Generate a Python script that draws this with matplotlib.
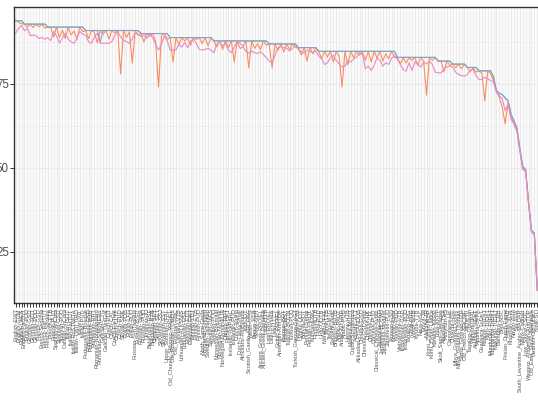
"""
Per-treebank tagging accuracy for four runs, treebanks sorted best to worst.
"""

from pathlib import Path

import numpy as np
import matplotlib
matplotlib.use("Agg")
import matplotlib.pyplot as plt
from matplotlib.ticker import MultipleLocator


TREEBANKS = [
    "English-EWT", "English-GUM", "English-LinES", "English-ParTUT", "English-PUD",
    "German-GSD", "German-HDT", "German-PUD", "French-GSD", "French-Sequoia",
    "French-ParTUT", "French-Spoken", "French-FTB", "French-PUD", "Spanish-AnCora",
    "Spanish-GSD", "Spanish-PUD", "Catalan-AnCora", "Italian-ISDT", "Italian-ParTUT",
    "Italian-PoSTWITA", "Italian-TWITTIRO", "Italian-VIT", "Italian-PUD", "Portuguese-Bosque",
    "Portuguese-GSD", "Portuguese-PUD", "Romanian-RRT", "Romanian-Nonstandard", "Romanian-SiMoNERo",
    "Galician-CTG", "Galician-TreeGal", "Czech-PDT", "Czech-CAC", "Czech-FicTree",
    "Czech-CLTT", "Czech-PUD", "Slovak-SNK", "Polish-PDB", "Polish-LFG",
    "Polish-PUD", "Russian-SynTagRus", "Russian-GSD", "Russian-Taiga", "Russian-PUD",
    "Ukrainian-IU", "Belarusian-HSE", "Bulgarian-BTB", "Croatian-SET", "Serbian-SET",
    "Slovenian-SSJ", "Slovenian-SST", "Upper_Sorbian-UFAL", "Old_Church_Slavonic-PROIEL", "Old_Russian-TOROT",
    "Old_Russian-RNC", "Latvian-LVTB", "Lithuanian-ALKSNIS", "Lithuanian-HSE", "Estonian-EDT",
    "Estonian-EWT", "Finnish-TDT", "Finnish-FTB", "Finnish-PUD", "North_Sami-Giella",
    "Hungarian-Szeged", "Swedish-Talbanken", "Swedish-LinES", "Swedish-PUD", "Norwegian-Bokmaal",
    "Norwegian-Nynorsk", "Norwegian-NynorskLIA", "Danish-DDT", "Faroese-OFT", "Icelandic-IcePaHC",
    "Icelandic-PUD", "Dutch-Alpino", "Dutch-LassySmall", "Afrikaans-AfriBooms", "Irish-IDT",
    "Scottish_Gaelic-ARCOSG", "Welsh-CCG", "Breton-KEB", "Greek-GDT", "Ancient_Greek-PROIEL",
    "Ancient_Greek-Perseus", "Latin-ITTB", "Latin-PROIEL", "Latin-Perseus", "Latin-LLCT",
    "Gothic-PROIEL", "Armenian-ArmTDP", "Basque-BDT", "Turkish-IMST", "Turkish-BOUN",
    "Turkish-PUD", "Turkish_German-SAGT", "Kazakh-KTB", "Uyghur-UDT", "Buryat-BDT",
    "Persian-Seraji", "Persian-PerDT", "Kurmanji-MG", "Hindi-HDTB", "Hindi-PUD",
    "Urdu-UDTB", "Marathi-UFAL", "Tamil-TTB", "Telugu-MTG", "Sanskrit-Vedic",
    "Bhojpuri-BHTB", "Arabic-PADT", "Arabic-NYUAD", "Arabic-PUD", "Hebrew-HTB",
    "Maltese-MUDT", "Coptic-Scriptorium", "Amharic-ATT", "Akkadian-PISANDUB", "Chinese-GSD",
    "Chinese-GSDSimp", "Chinese-HK", "Chinese-CFL", "Chinese-PUD", "Classical_Chinese-Kyoto",
    "Japanese-GSD", "Japanese-BCCWJ", "Japanese-Modern", "Japanese-PUD", "Korean-GSD",
    "Korean-Kaist", "Korean-PUD", "Vietnamese-VTB", "Indonesian-GSD", "Indonesian-PUD",
    "Tagalog-TRG", "Thai-PUD", "Wolof-WTB", "Yoruba-YTB", "Naija-NSC",
    "Erzya-JR", "Moksha-JR", "Komi_Zyrian-IKDP", "Komi_Zyrian-Lattice", "Karelian-KKPP",
    "Livvi-KKPP", "Skolt_Sami-Giellagas", "Albanian-TSA", "Assyrian-AS", "Cantonese-HK",
    "Chukchi-HSE", "Mbya_Guarani-Dooley", "Mbya_Guarani-Thomas", "Swiss_German-UZH", "Old_French-SRCMF",
    "Kiche-IU", "Tagalog-Ugnayan", "Warlpiri-UFAL", "Akuntsu-TuDeT", "Apurina-UFPA",
    "Guajajara-TuDeT", "Kaapor-TuDeT", "Karo-TuDeT", "Munduruku-TuDeT", "Tupinamba-TuDeT",
    "Makurap-TuDeT", "Bambara-CRB", "Beja-NSC", "Frisian_Dutch-Fame", "Hittite-HHD",
    "Khunsari-AHA", "Nayini-AHA", "Soi-AHA", "South_Levantine_Arabic-MADAR", "Manx-Cadhan",
    "Low_Saxon-LSDC", "Western_Armenian-ArmTDP", "Old_East_Slavic-Birchbark", "Guarani-OldTuDeT", "Yupik-SLI",
]

# run A (green) - mostly hidden under run C
RUN_A = [
    93.8, 93.8, 93.8, 92.8, 92.8, 92.8, 92.8, 92.8, 92.8, 92.8,
    92.8, 91.9, 91.9, 91.9, 91.9, 91.9, 91.9, 91.9, 91.9, 91.9,
    91.9, 91.9, 91.9, 91.9, 90.9, 90.9, 90.9, 90.9, 90.9, 90.9,
    90.9, 90.9, 90.9, 90.9, 90.9, 90.9, 90.9, 90.9, 90.9, 90.9,
    90.9, 90.9, 90.9, 90.0, 90.0, 90.0, 90.0, 90.0, 90.0, 90.0,
    90.0, 90.0, 90.0, 88.8, 88.8, 88.8, 88.8, 88.8, 88.8, 88.8,
    88.8, 88.8, 88.8, 88.8, 88.8, 88.8, 88.8, 88.8, 87.8, 87.8,
    87.8, 87.8, 87.8, 87.8, 87.8, 87.8, 87.8, 87.8, 87.8, 87.8,
    87.8, 87.8, 87.8, 87.8, 87.8, 87.8, 87.8, 86.9, 86.9, 86.9,
    86.9, 86.9, 86.9, 86.9, 86.9, 86.9, 86.9, 85.8, 85.8, 85.8,
    85.8, 85.8, 85.8, 85.8, 84.7, 84.7, 84.7, 84.7, 84.7, 84.7,
    84.7, 84.7, 84.7, 84.7, 84.7, 84.7, 84.7, 84.7, 84.7, 84.7,
    84.7, 84.7, 84.7, 84.7, 84.7, 84.7, 84.7, 84.7, 84.7, 84.7,
    84.7, 82.9, 82.9, 82.9, 82.9, 82.9, 82.9, 82.9, 82.9, 82.9,
    82.9, 82.9, 82.9, 82.9, 82.9, 81.8, 81.8, 81.8, 81.8, 81.8,
    80.9, 80.9, 80.9, 80.9, 80.9, 79.9, 79.9, 79.9, 79.9, 78.9,
    78.9, 78.9, 78.9, 78.9, 77.0, 73.0, 72.2, 71.8, 70.8, 70.0,
    66.0, 64.0, 62.0, 56.0, 50.5, 49.5, 40.0, 31.5, 30.5, 13.7,
]

# run B (orange)
RUN_B = [
    94.0, 93.3, 92.9, 92.8, 91.9, 92.8, 91.8, 92.8, 92.0, 92.8,
    91.6, 91.9, 91.9, 89.0, 91.9, 88.8, 91.0, 88.5, 91.9, 89.6,
    90.8, 88.3, 91.9, 90.6, 90.9, 88.5, 90.9, 90.4, 87.2, 90.9,
    89.8, 90.9, 88.3, 90.9, 90.2, 90.9, 78.0, 90.9, 88.8, 90.5,
    81.2, 90.9, 89.5, 90.0, 87.5, 90.0, 89.2, 90.0, 87.8, 74.1,
    89.3, 90.0, 88.3, 88.8, 81.5, 88.8, 86.8, 88.8, 87.8, 88.8,
    86.5, 88.8, 88.2, 88.8, 87.0, 88.8, 86.3, 88.8, 87.8, 86.0,
    87.8, 85.3, 87.8, 85.8, 87.8, 81.5, 87.8, 85.5, 86.0, 87.8,
    79.8, 87.8, 85.6, 87.0, 85.2, 87.8, 86.5, 86.9, 79.8, 86.9,
    85.0, 86.9, 84.5, 86.9, 85.3, 86.9, 86.0, 85.8, 83.6, 85.8,
    81.8, 85.8, 84.0, 85.8, 84.7, 82.5, 84.7, 83.0, 84.7, 81.5,
    84.7, 83.2, 74.1, 84.7, 80.7, 84.7, 82.8, 84.7, 83.5, 84.7,
    82.0, 84.7, 81.5, 84.7, 82.8, 84.7, 81.8, 84.0, 82.5, 84.7,
    83.0, 82.9, 80.8, 82.9, 81.2, 82.9, 82.0, 82.9, 80.5, 82.9,
    81.8, 71.7, 82.9, 82.0, 82.9, 81.8, 81.8, 78.6, 81.8, 80.5,
    80.9, 79.8, 80.9, 79.5, 80.9, 79.9, 78.6, 79.9, 78.5, 78.9,
    78.2, 70.0, 78.9, 78.0, 76.0, 72.8, 71.0, 68.0, 63.1, 69.5,
    65.0, 63.5, 61.5, 55.5, 50.0, 49.0, 39.8, 31.2, 30.2, 13.6,
]

# run C (blue) - upper envelope
RUN_C = [
    93.8, 93.8, 93.8, 92.8, 92.8, 92.8, 92.8, 92.8, 92.8, 92.8,
    92.8, 91.9, 91.9, 91.9, 91.9, 91.9, 91.9, 91.9, 91.9, 91.9,
    91.9, 91.9, 91.9, 91.9, 90.9, 90.9, 90.9, 90.9, 90.9, 87.5,
    90.9, 90.9, 90.9, 90.9, 90.9, 90.9, 90.9, 90.9, 90.9, 90.9,
    90.9, 90.9, 90.9, 90.0, 90.0, 90.0, 90.0, 90.0, 90.0, 90.0,
    90.0, 90.0, 90.0, 88.8, 88.8, 88.8, 88.8, 88.8, 88.8, 88.8,
    88.8, 88.8, 88.8, 88.8, 88.8, 88.8, 88.8, 88.8, 87.8, 87.8,
    87.8, 87.8, 87.8, 87.8, 87.8, 87.8, 87.8, 87.8, 87.8, 87.8,
    87.8, 87.8, 87.8, 87.8, 87.8, 87.8, 87.8, 86.9, 86.9, 86.9,
    86.9, 86.9, 86.9, 86.9, 86.9, 86.9, 86.9, 85.8, 85.8, 85.8,
    85.8, 85.8, 85.8, 85.8, 84.7, 84.7, 84.7, 84.7, 84.7, 84.7,
    84.7, 84.7, 84.7, 84.7, 84.7, 84.7, 84.7, 84.7, 84.7, 84.7,
    84.7, 84.7, 84.7, 84.7, 84.7, 84.7, 84.7, 84.7, 84.7, 84.7,
    84.7, 82.9, 82.9, 82.9, 82.9, 82.9, 82.9, 82.9, 82.9, 82.9,
    82.9, 82.9, 82.9, 82.9, 82.9, 81.8, 81.8, 81.8, 81.8, 81.8,
    80.9, 80.9, 80.9, 80.9, 80.9, 79.9, 79.9, 79.9, 79.9, 78.9,
    78.9, 78.9, 78.9, 78.9, 77.0, 73.0, 72.2, 71.8, 70.8, 70.0,
    66.0, 64.0, 62.0, 56.0, 50.5, 49.5, 40.0, 31.5, 30.5, 13.7,
]

# run D (pink)
RUN_D = [
    90.1, 91.6, 92.4, 90.8, 91.6, 89.3, 89.6, 89.3, 88.5, 88.9,
    88.3, 88.8, 87.9, 90.6, 89.3, 87.2, 88.6, 90.1, 88.3, 87.6,
    87.1, 88.6, 90.6, 89.8, 89.5, 87.5, 87.1, 89.0, 90.1, 87.1,
    87.1, 87.1, 87.1, 87.6, 89.5, 90.6, 89.0, 88.0, 87.6, 87.1,
    88.5, 90.1, 89.8, 89.1, 89.6, 88.6, 89.8, 88.8, 86.8, 85.1,
    86.8, 89.3, 87.8, 85.1, 85.1, 85.1, 86.8, 86.0, 87.3, 85.8,
    87.8, 88.3, 87.0, 85.3, 85.1, 85.3, 85.6, 85.1, 84.3, 86.8,
    87.6, 86.3, 87.1, 85.1, 84.3, 86.0, 87.6, 87.1, 86.3, 84.6,
    84.1, 84.8, 84.3, 84.0, 84.6, 83.8, 82.8, 81.8, 81.5, 83.5,
    85.8, 86.1, 85.8, 85.6, 84.8, 85.6, 86.3, 85.3, 84.6, 84.1,
    85.1, 84.6, 84.3, 84.8, 83.3, 82.5, 80.8, 81.3, 82.8, 83.5,
    82.0, 81.0, 80.0, 80.3, 82.0, 81.5, 82.5, 83.0, 84.3, 83.8,
    79.5, 80.3, 79.0, 80.5, 82.8, 82.0, 80.3, 81.3, 80.8, 82.6,
    83.3, 82.3, 80.8, 79.3, 78.8, 81.3, 79.0, 81.6, 81.0, 80.0,
    81.5, 81.0, 81.8, 80.8, 78.5, 78.3, 78.3, 79.5, 80.1, 80.3,
    80.0, 78.5, 77.8, 77.5, 77.3, 77.8, 79.0, 79.3, 77.5, 76.3,
    76.3, 77.0, 76.5, 76.0, 75.5, 72.5, 71.5, 70.5, 67.0, 69.0,
    64.5, 63.0, 61.0, 55.0, 49.5, 49.0, 39.5, 31.0, 30.0, 13.5,
]

# Set2 palette, same order as the runs
RUN_COLORS = ["#66C2A5", "#FC8D62", "#8DA0CB", "#E78AC3"]


def save_accuracy_figure(output_path: str | Path = "out.png") -> Path:
    """Draw the four accuracy lines over the sorted treebanks."""
    runs = [RUN_A, RUN_B, RUN_C, RUN_D]
    for run in runs:
        if len(run) != len(TREEBANKS):
            raise ValueError(f"run has {len(run)} values, expected {len(TREEBANKS)}")

    plt.rcParams["font.family"] = ["Liberation Sans", "DejaVu Sans"]

    x = np.arange(len(TREEBANKS))

    fig = plt.figure(figsize=(5.38, 4.04), dpi=100)
    # panel is wider than the canvas on the right, like the original crop
    ax = fig.add_axes([14 / 538, 101 / 404, 525 / 538, 296 / 404])

    for run, color in zip(runs, RUN_COLORS):
        ax.plot(x, run, color=color, linewidth=0.8)

    ax.set_xlim(-0.6, len(TREEBANKS) - 0.4)
    ax.set_ylim(9.8, 97.9)

    ax.set_xticks(x)
    ax.set_xticklabels(TREEBANKS, rotation=90, fontsize=4.1, color="#5A5A5A")
    ax.yaxis.set_major_locator(MultipleLocator(25))
    ax.yaxis.set_minor_locator(MultipleLocator(12.5))

    ax.grid(which="major", color="#EBEBEB", linewidth=1.0)
    ax.grid(which="minor", axis="y", color="#EBEBEB", linewidth=0.5)
    ax.set_axisbelow(True)

    ax.tick_params(axis="both", which="major", length=2.9, width=0.7,
                   color="#333333", pad=0.8)
    ax.tick_params(axis="y", which="minor", length=0)
    ax.tick_params(axis="y", labelsize=8.3, labelcolor="#4D4D4D")

    for spine in ax.spines.values():
        spine.set_color("#333333")
        spine.set_linewidth(1.0)

    output_path = Path(output_path)
    fig.savefig(output_path, dpi=100)
    plt.close(fig)
    return output_path


def main() -> None:
    path = save_accuracy_figure("out.png")
    print(f"Saved figure to: {path}")


if __name__ == "__main__":
    main()
